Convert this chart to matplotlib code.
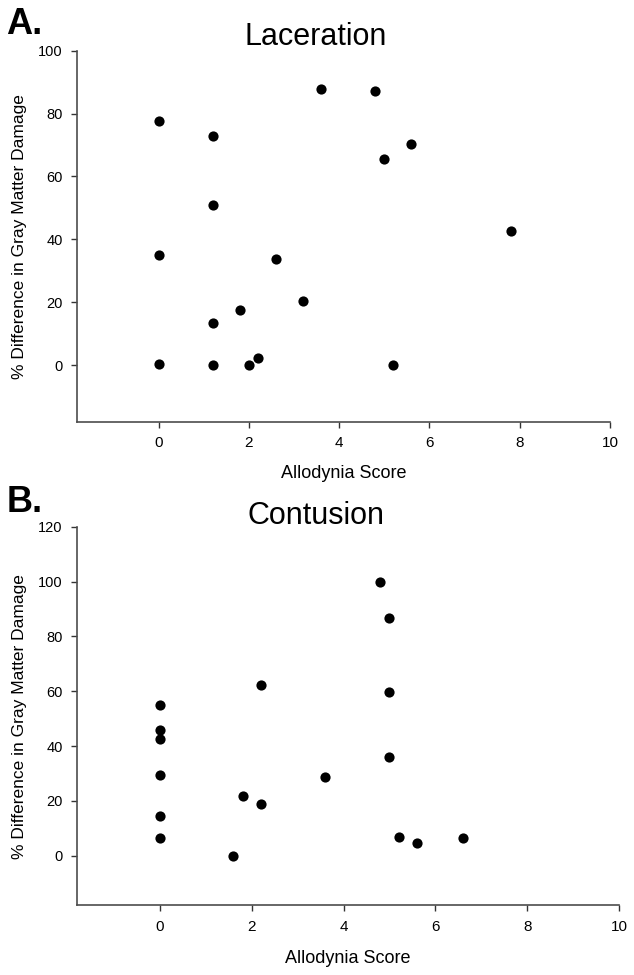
import matplotlib
matplotlib.use("Agg")
import matplotlib.pyplot as plt

plt.rcParams['font.family'] = ['Liberation Sans', 'DejaVu Sans']

# Panel A: Laceration
lac_x = [0, 1.2, 3.6, 4.8, 5.0, 5.6, 1.2, 7.8, 0, 2.6, 3.2, 1.8, 1.2, 2.2, 0, 1.2, 2.0, 5.2]
lac_y = [77.5, 72.8, 87.8, 87.3, 65.6, 70.2, 50.8, 42.5, 35.1, 33.7, 20.3, 17.6, 13.3, 2.4, 0.3, 0, 0, 0]

# Panel B: Contusion
con_x = [4.8, 5.0, 2.2, 5.0, 0, 0, 0, 5.0, 0, 3.6, 1.8, 2.2, 0, 0, 5.2, 5.6, 6.6, 1.6]
con_y = [100, 86.6, 62.3, 59.8, 55.1, 45.9, 42.4, 35.9, 29.3, 28.8, 21.7, 18.8, 14.6, 6.6, 6.8, 4.6, 6.3, 0]

xticks = [0, 2, 4, 6, 8, 10]
yticks_a = [0, 20, 40, 60, 80, 100]
yticks_b = [0, 20, 40, 60, 80, 100, 120]

fig = plt.figure(figsize=(6.34, 9.75), dpi=100)
W, H = 634, 975

def mk_ax(l, r, t, b):
    return fig.add_axes([l / W, 1 - b / H, (r - l) / W, (b - t) / H])

axA = mk_ax(77.3, 610, 50.7, 421.7)
axB = mk_ax(77.3, 619, 526.7, 905)

def style(ax, x, y, yticks, ylim):
    ax.scatter(x, y, s=54, color='black', zorder=3, linewidths=0)
    ax.set_xlim(-1.8, 10)
    ax.set_ylim(*ylim)
    ax.set_xticks(xticks)
    ax.set_yticks(yticks)
    for s in ['top', 'right']:
        ax.spines[s].set_visible(False)
    for s in ['left', 'bottom']:
        ax.spines[s].set_color('#4d4d4d')
        ax.spines[s].set_linewidth(1.2)
    ax.tick_params(direction='out', length=4, width=1.0, colors='#333333',
                   labelcolor='black', pad=6.5)
    ax.tick_params(axis='x', labelsize=11)
    ax.tick_params(axis='y', labelsize=10.5)

style(axA, lac_x, lac_y, yticks_a, (-18, 100))
style(axB, con_x, con_y, yticks_b, (-18, 120))

def fy(y):
    return 1 - y / H

# panel letters and titles
fig.text(6 / W, fy(34), 'A.', fontsize=26, fontweight='bold', ha='left', va='baseline')
fig.text(316 / W, fy(45), 'Laceration', fontsize=22, ha='center', va='baseline')
fig.text(7 / W, fy(512), 'B.', fontsize=26, fontweight='bold', ha='left', va='baseline')
fig.text(316 / W, fy(524), 'Contusion', fontsize=22, ha='center', va='baseline')

# axis labels
ylab = '% Difference in Gray Matter Damage'
fig.text(20 / W, fy(237), ylab, fontsize=12.5, rotation=90, ha='center', va='center')
fig.text(20 / W, fy(717), ylab, fontsize=12.5, rotation=90, ha='center', va='center')
fig.text((77.3 + 610) / 2 / W, fy(478), 'Allodynia Score', fontsize=13, ha='center', va='baseline')
fig.text((77.3 + 619) / 2 / W, fy(963), 'Allodynia Score', fontsize=13, ha='center', va='baseline')

fig.savefig('out.png', dpi=100)
